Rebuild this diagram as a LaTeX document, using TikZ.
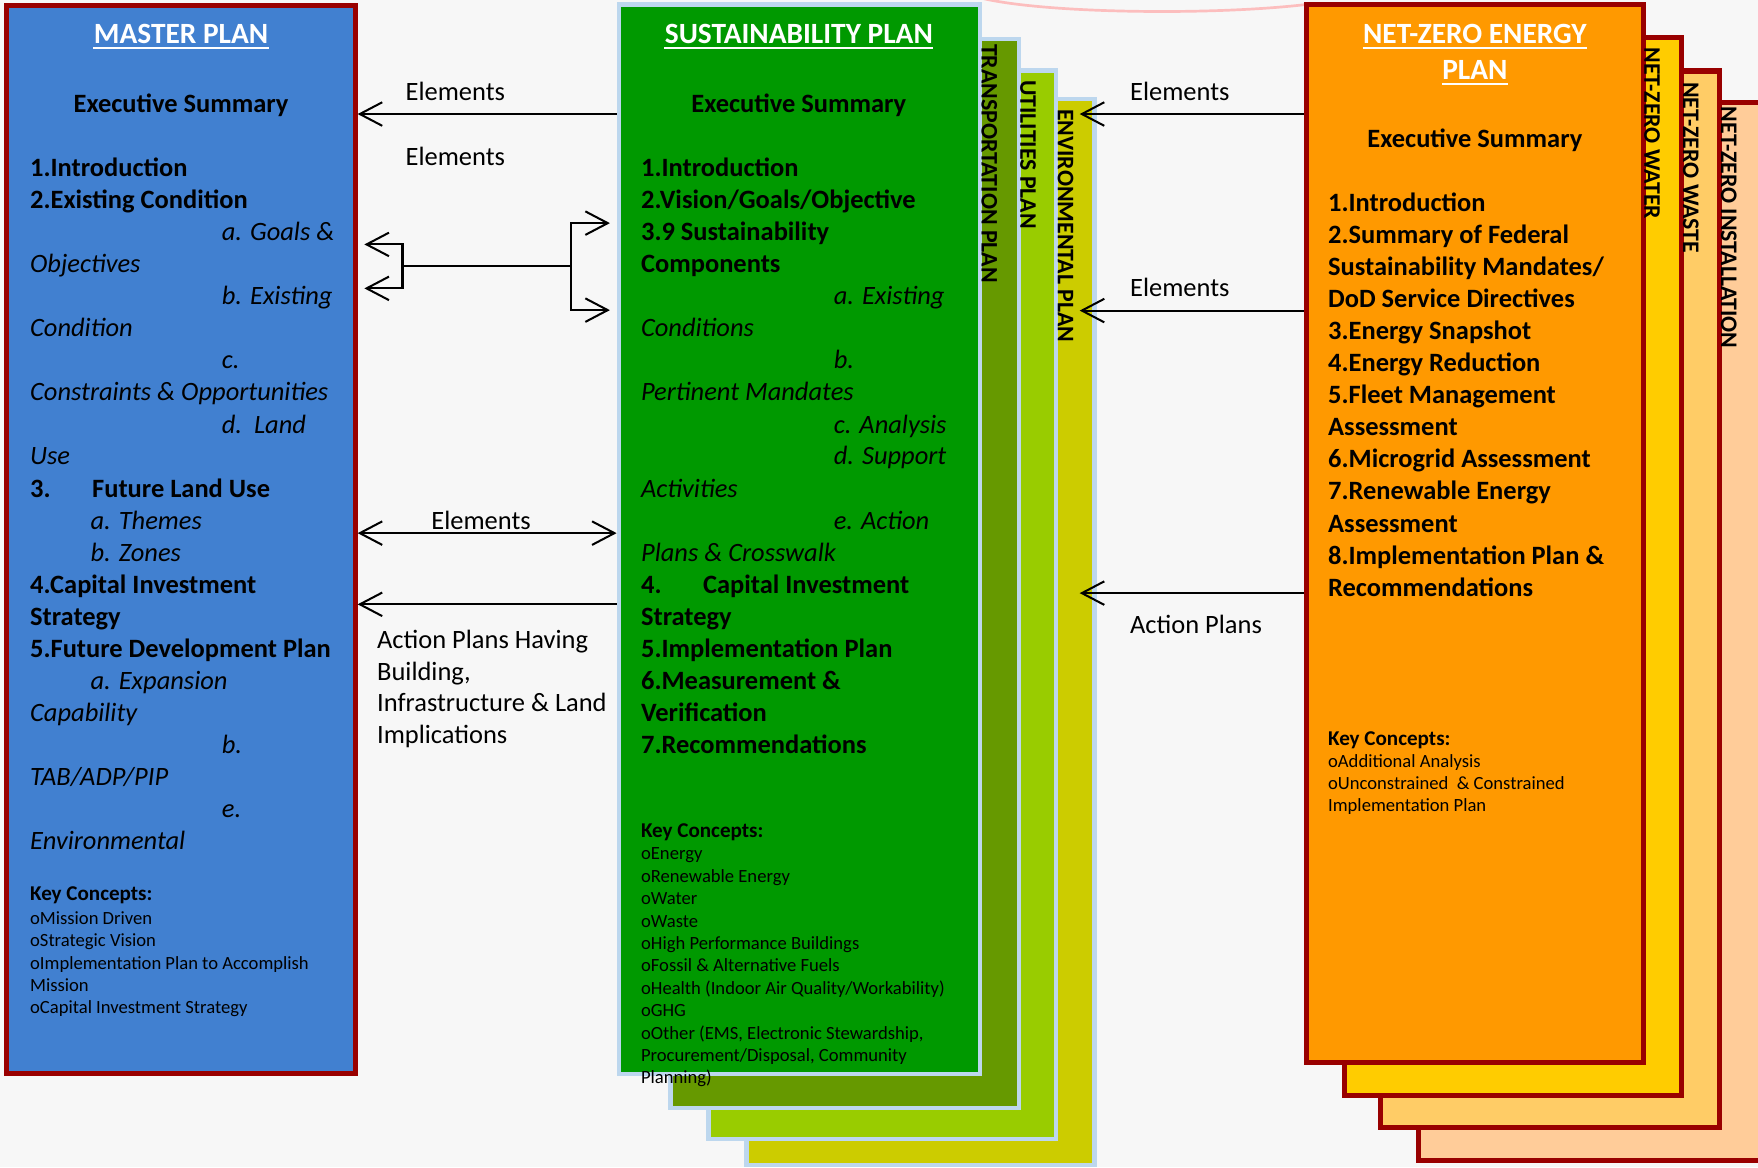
\documentclass[tikz,border=0pt]{standalone}
\usepackage{fontspec}
\setmainfont{Carlito}
\usetikzlibrary{arrows.meta,fit}
\definecolor{bgc}{RGB}{247,247,247}
\definecolor{mblue}{RGB}{65,128,208}
\definecolor{dred}{RGB}{153,0,0}
\definecolor{sgreen}{RGB}{0,153,0}
\definecolor{lblue}{RGB}{189,215,238}
\definecolor{cOlive}{RGB}{102,153,0}
\definecolor{cLime}{RGB}{153,204,0}
\definecolor{cEnv}{RGB}{204,204,0}
\definecolor{cOrng}{RGB}{255,153,0}
\definecolor{cYel}{RGB}{255,204,0}
\definecolor{cWaste}{RGB}{255,204,102}
\definecolor{cInst}{RGB}{255,204,153}
\newcommand\fbig{\fontsize{11.8pt}{14.3pt}\selectfont}
\newcommand\fsmall{\fontsize{8.3pt}{10pt}\selectfont}
\newcommand\fkey{\fontsize{9.4pt}{11pt}\selectfont}
\newcommand\ftitle{\fontsize{13.1pt}{16pt}\selectfont}
\newcommand\fvert{\fontsize{10.6pt}{12pt}\selectfont}
\tikzset{
  redbox/.style={draw=dred, line width=2.25pt, inner sep=0pt},
  bluebox/.style={draw=lblue, line width=2pt, inner sep=0pt},
  ln/.style={anchor=base west, inner sep=0pt, font=\fbig},
  lb/.style={ln, font=\fbig\bfseries},
  li/.style={ln, font=\fbig\itshape},
  ttl/.style={anchor=base, inner sep=0pt, text=white, font=\ftitle\bfseries},
  exs/.style={anchor=base, inner sep=0pt, font=\fbig\bfseries},
  kh/.style={ln, font=\fkey\bfseries},
  ks/.style={ln, font=\fsmall},
  vl/.style={rotate=-90, anchor=west, inner sep=0pt, font=\fvert\bfseries},
  conn/.style={line width=0.9pt, black},
  arr/.style={conn, -{Straight Barb[length=10pt,width=10.5pt]}},
  arrb/.style={conn, {Straight Barb[length=10pt,width=10.5pt]}-{Straight Barb[length=10pt,width=10.5pt]}},
  uline/.style={white, line width=0.8pt},
}
\begin{document}
\begin{tikzpicture}[x=0.5pt,y=-0.5pt]
\useasboundingbox (0,0) rectangle (1568,1041);
\clip (0,0) rectangle (1568,1041);
\fill[bgc] (0,0) rectangle (1568,1041);
\draw[red!35, line width=1.2pt, opacity=.7] (874,-2) .. controls (930,12) and (1080,14) .. (1165,4);

% ---------- master plan ----------
\node[redbox, fill=mblue, fit={(5.75,4.65) (316.75,957.45)}] (master) {};
\node[ttl] (mtitle) at (161.5,38.7) {MASTER PLAN};
\draw[uline] ([yshift=-2.2pt]mtitle.base west) -- ([yshift=-2.2pt]mtitle.base east);
\node[exs] (mexec) at (161.5,100.5) {Executive Summary};
\node[lb] (m0) at (26.5,157.6) {1.Introduction};
\node[lb] (m1) at (26.5,186.2) {2.Existing Condition};
\node[li] (m2) at (197.5,214.7) {a. Goals \&};
\node[li] (m3) at (26.5,243.3) {Objectives};
\node[li] (m4) at (197.5,271.9) {b. Existing};
\node[li] (m5) at (26.5,300.5) {Condition};
\node[li] (m6) at (197.5,329.0) {c.};
\node[li] (m7) at (26.5,357.6) {Constraints \& Opportunities};
\node[li] (m8) at (197.5,386.2) {d.\ \ Land};
\node[li] (m9) at (26.5,414.7) {Use};
\node[lb] (m10) at (26.5,443.3) {3.};
\node[lb] (m10b) at (81.8,443.3) {Future Land Use};
\node[li] (m11) at (80.4,471.9) {a. Themes};
\node[li] (m12) at (80.4,500.4) {b. Zones};
\node[lb] (m13) at (26.5,529.0) {4.Capital Investment};
\node[lb] (m14) at (26.5,557.6) {Strategy};
\node[lb] (m15) at (26.5,586.2) {5.Future Development Plan};
\node[li] (m16) at (80.4,614.7) {a. Expansion};
\node[li] (m17) at (26.5,643.3) {Capability};
\node[li] (m18) at (197.5,671.9) {b.};
\node[li] (m19) at (26.5,700.4) {TAB/ADP/PIP};
\node[li] (m20) at (197.5,729.0) {e.};
\node[li] (m21) at (26.5,757.6) {Environmental};
\node[kh] (mk) at (26.5,803.6) {Key Concepts:};
\node[ks] (mk1) at (26.5,824.4) {oMission Driven};
\node[ks] (mk2) at (26.5,844.6) {oStrategic Vision};
\node[ks] (mk3) at (26.5,864.5) {oImplementation Plan to Accomplish};
\node[ks] (mk4) at (26.5,884.1) {Mission};
\node[ks] (mk5) at (26.5,904.1) {oCapital Investment Strategy};

% ---------- sustainability stack ----------
\node[bluebox, fill=cEnv, fit={(666,88.5) (976,1039)}] (env) {};
\node[bluebox, fill=cLime, fit={(632,63) (942,1016)}] (util) {};
\node[bluebox, fill=cOlive, fit={(598,35) (909,988)}] (trans) {};
\node[bluebox, fill=sgreen, fit={(552,4) (874,958)}] (green) {};
\node[vl] (vtrans) at (882.5,39) {TRANSPORTATION PLAN};
\node[vl] (vutil) at (917,71) {UTILITIES PLAN};
\node[vl] (venv) at (950.5,97) {ENVIRONMENTAL PLAN};

\node[ttl] (gtitle) at (712.5,38.7) {SUSTAINABILITY PLAN};
\draw[uline] ([yshift=-2.2pt]gtitle.base west) -- ([yshift=-2.2pt]gtitle.base east);
\node[exs] (gexec) at (712.5,100.5) {Executive Summary};
\node[lb] (g0) at (571.4,157.6) {1.Introduction};
\node[lb] (g1) at (571.4,186.2) {2.Vision/Goals/Objective};
\node[lb] (g2) at (571.4,214.7) {3.9 Sustainability};
\node[lb] (g3) at (571.4,243.3) {Components};
\node[li] (g4) at (743.3,271.9) {a. Existing};
\node[li] (g5) at (571.4,300.5) {Conditions};
\node[li] (g6) at (743.3,329.0) {b.};
\node[li] (g7) at (571.4,357.6) {Pertinent Mandates};
\node[li] (g8) at (743.3,386.2) {c. Analysis};
\node[li] (g9) at (743.3,414.7) {d. Support};
\node[li] (g10) at (571.4,443.3) {Activities};
\node[li] (g11) at (743.3,471.9) {e. Action};
\node[li] (g12) at (571.4,500.4) {Plans \& Crosswalk};
\node[lb] (g13) at (571.4,529.0) {4.};
\node[lb] (g13b) at (626.7,529.0) {Capital Investment};
\node[lb] (g14) at (571.4,557.6) {Strategy};
\node[lb] (g15) at (571.4,586.2) {5.Implementation Plan};
\node[lb] (g16) at (571.4,614.7) {6.Measurement \&};
\node[lb] (g17) at (571.4,643.3) {Verification};
\node[lb] (g18) at (571.4,671.9) {7.Recommendations};
\node[kh] (gk) at (571.4,746.8) {Key Concepts:};
\node[ks] (gk1) at (571.4,766.8) {oEnergy};
\node[ks] (gk2) at (571.4,786.8) {oRenewable Energy};
\node[ks] (gk3) at (571.4,806.8) {oWater};
\node[ks] (gk4) at (571.4,826.8) {oWaste};
\node[ks] (gk5) at (571.4,846.8) {oHigh Performance Buildings};
\node[ks] (gk6) at (571.4,866.8) {oFossil \& Alternative Fuels};
\node[ks] (gk7) at (571.4,886.8) {oHealth (Indoor Air Quality/Workability)};
\node[ks] (gk8) at (571.4,906.8) {oGHG};
\node[ks] (gk9) at (571.4,926.8) {oOther (EMS, Electronic Stewardship,};
\node[ks] (gk10) at (571.4,946.8) {Procurement/Disposal, Community};
\node[ks] (gk11) at (571.4,966.8) {Planning)};

% ---------- net-zero stack ----------
\node[redbox, fill=cInst, fit={(1265.3,91.3) (1590,1034.7)}] (inst) {};
\node[redbox, fill=cWaste, fit={(1231.3,63.3) (1533.7,1005.7)}] (waste) {};
\node[redbox, fill=cYel, fit={(1198.9,33.3) (1499.7,976.7)}] (water) {};
\node[redbox, fill=cOrng, fit={(1164.9,4.3) (1465.7,947.7)}] (nze) {};
\node[vl] (vwater) at (1473.5,42) {NET-ZERO WATER};
\node[vl] (vwaste) at (1508,73) {NET-ZERO WASTE};
\node[vl] (vinst) at (1542,95) {NET-ZERO INSTALLATION};

\node[ttl] (ntitle1) at (1315.5,38.7) {NET-ZERO ENERGY};
\draw[uline] ([yshift=-2.2pt]ntitle1.base west) -- ([yshift=-2.2pt]ntitle1.base east);
\node[ttl] (ntitle2) at (1315.5,70.8) {PLAN};
\draw[uline] ([yshift=-2.2pt]ntitle2.base west) -- ([yshift=-2.2pt]ntitle2.base east);
\node[exs] (nexec) at (1315.5,131.5) {Executive Summary};
\node[lb] (n0) at (1184.2,188.8) {1.Introduction};
\node[lb] (n1) at (1184.2,217.4) {2.Summary of Federal};
\node[lb] (n2) at (1184.2,245.9) {Sustainability Mandates/};
\node[lb] (n3) at (1184.2,274.5) {DoD Service Directives};
\node[lb] (n4) at (1184.2,303.1) {3.Energy Snapshot};
\node[lb] (n5) at (1184.2,331.7) {4.Energy Reduction};
\node[lb] (n6) at (1184.2,360.2) {5.Fleet Management};
\node[lb] (n7) at (1184.2,388.8) {Assessment};
\node[lb] (n8) at (1184.2,417.4) {6.Microgrid Assessment};
\node[lb] (n9) at (1184.2,445.9) {7.Renewable Energy};
\node[lb] (n10) at (1184.2,474.5) {Assessment};
\node[lb] (n11) at (1184.2,503.1) {8.Implementation Plan \&};
\node[lb] (n12) at (1184.2,531.6) {Recommendations};
\node[kh] (nk) at (1184.2,664.5) {Key Concepts:};
\node[ks] (nk1) at (1184.2,684.2) {oAdditional Analysis};
\node[ks] (nk2) at (1184.2,704.1) {oUnconstrained\ \ \& Constrained};
\node[ks] (nk3) at (1184.2,724.0) {Implementation Plan};

% ---------- connectors ----------
\coordinate (mT) at ([xshift=3pt]master.east);
\coordinate (gT) at ([xshift=-3pt]green.west);
\coordinate (eT) at ([xshift=-7.5pt]env.east);
\coordinate (fL) at (359,237.5);
\coordinate (fR) at (509,237.5);

\draw[arr] (green.west |- 0,101.7) -- (master.east |- 0,101.7);
\draw[arrb] (mT |- 0,218) -- (fL |- 0,218) -- (fL |- 0,257.2) -- (mT |- 0,257.2);
\draw[conn] (fL) -- (fR);
\draw[arrb] (gT |- 0,199) -- (fR |- 0,199) -- (fR |- 0,276.6) -- (gT |- 0,276.6);
\draw[arrb] (master.east |- 0,475.5) -- (green.west |- 0,475.5);
\draw[arr] (green.west |- 0,539) -- (master.east |- 0,539);
\draw[arr] (nze.west |- 0,101.7) -- (eT |- 0,101.7);
\draw[arr] (nze.west |- 0,277) -- (eT |- 0,277);
\draw[arr] (nze.west |- 0,529) -- (eT |- 0,529);

\node[ln] (lE1) at (361.4,89.2) {Elements};
\node[ln] (lE2) at (361.4,147.2) {Elements};
\node[ln] (lE3) at (384.4,472.7) {Elements};
\node[ln] (lA1) at (336,578.2) {Action Plans Having};
\node[ln] (lA2) at (336,606.6) {Building,};
\node[ln] (lA3) at (336,635.0) {Infrastructure \& Land};
\node[ln] (lA4) at (336,663.4) {Implications};
\node[ln] (rE1) at (1007.6,89.2) {Elements};
\node[ln] (rE2) at (1007.6,264.6) {Elements};
\node[ln] (rA) at (1007.6,564.9) {Action Plans};
\end{tikzpicture}
\end{document}
